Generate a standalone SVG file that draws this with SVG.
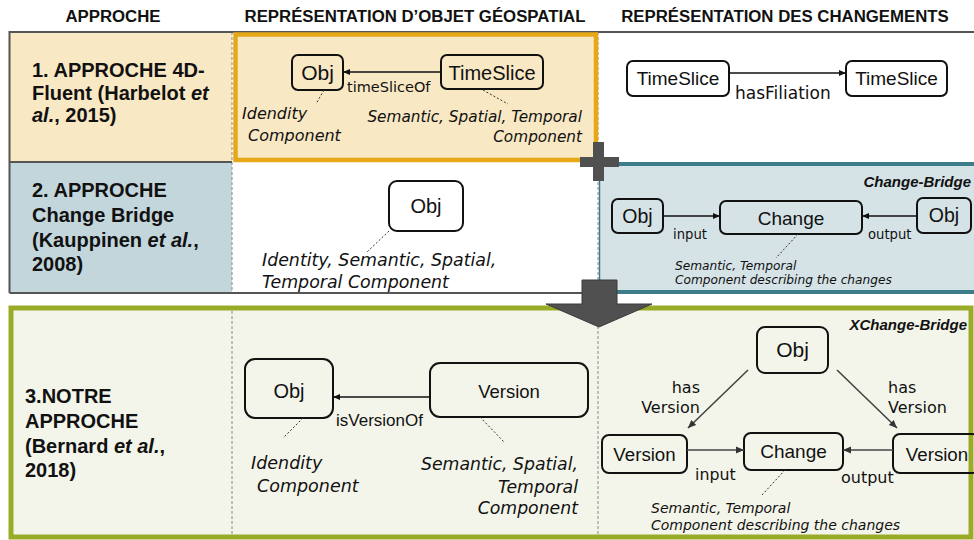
<svg xmlns="http://www.w3.org/2000/svg" width="974" height="540" viewBox="0 0 974 540">
<defs>
<style>
.hdr{font-family:"Liberation Sans",Arial,sans-serif;font-weight:bold;font-size:16.8px;text-anchor:middle;fill:#111}
.rt{font-family:"Liberation Sans",Arial,sans-serif;font-weight:bold;font-size:20px;fill:#111}
.box{fill:none;stroke:#111;stroke-width:2}
.bt{font-family:"Liberation Sans",Arial,sans-serif;text-anchor:middle;fill:#111}
.lb{font-family:"DejaVu Sans",Verdana,sans-serif;fill:#111}
.it{font-family:"DejaVu Sans",Verdana,sans-serif;font-style:italic;fill:#111}
.bi{font-family:"Liberation Sans",Arial,sans-serif;font-style:italic;font-weight:bold;font-size:15px;text-anchor:end;fill:#111}
.conn{stroke:#111;stroke-width:1.3;fill:none}
.conn2{stroke:#444;stroke-width:1.6;fill:none}
.dot{stroke:#333;stroke-width:1;stroke-dasharray:2 2;fill:none}
.div{stroke:#888;stroke-width:1;stroke-dasharray:3 2;fill:none}
</style>
<marker id="ah" markerWidth="8" markerHeight="8" refX="7" refY="4" orient="auto" markerUnits="userSpaceOnUse"><path d="M0,1 L7,4 L0,7 z" fill="#111"/></marker>
<marker id="ah2" markerWidth="9" markerHeight="9" refX="8" refY="4.5" orient="auto" markerUnits="userSpaceOnUse"><path d="M0,1 L8,4.5 L0,8 z" fill="#333"/></marker>
</defs>
<rect width="974" height="540" fill="#fff"/>

<g id="table">
<rect x="9.5" y="32" width="222.5" height="130" fill="#f9e8c4"/>
<rect x="9.5" y="162" width="222.5" height="131" fill="#c3d6dc"/>
<path d="M232 32V293M598 32V293" class="div"/>
<path d="M9.5 293V32H974M9.5 162H232M9.5 293H974" stroke="#555" stroke-width="2" fill="none"/>
<rect x="235.5" y="34.5" width="360.5" height="125.5" fill="#f9e8c4" stroke="#e6a817" stroke-width="4.5"/>
<rect x="599" y="164" width="376" height="128" fill="#d5e3e7"/>
<path d="M599 164H974M599 292H974" stroke="#3d7d8a" stroke-width="4"/>
<path d="M599.5 164V292" stroke="#3d7d8a" stroke-width="1.5"/>
<path d="M593 142h11v15h15v10h-15v14h-11v-14h-13v-10h13z" fill="#505050"/>
<rect x="11" y="308" width="960" height="229" fill="#f4f5ea" stroke="#9aab28" stroke-width="5"/>
<path d="M232 311V535M598 311V535" class="div"/>
<path d="M582 280H617V304H652L599 327L546 304H582Z" fill="#505050" stroke="#3a3a3a" stroke-width="1"/>
</g>

<g id="headers">
<text class="hdr" x="113" y="22">APPROCHE</text>
<text class="hdr" x="415" y="22">REPRÉSENTATION D’OBJET GÉOSPATIAL</text>
<text class="hdr" x="785" y="22">REPRÉSENTATION DES CHANGEMENTS</text>
</g>

<g id="row1-label">
<text class="rt" x="32" y="77">1. APPROCHE 4D-</text>
<text class="rt" x="32" y="100">Fluent (Harbelot <tspan font-style="italic">et</tspan></text>
<text class="rt" x="32" y="122"><tspan font-style="italic">al.</tspan>, 2015)</text>
</g>
<g id="row2-label">
<text class="rt" x="32" y="197">2. APPROCHE</text>
<text class="rt" x="32" y="222">Change Bridge</text>
<text class="rt" x="32" y="247">(Kauppinen <tspan font-style="italic">et al.</tspan>,</text>
<text class="rt" x="32" y="271">2008)</text>
</g>
<g id="row3-label">
<text class="rt" x="25" y="403">3.NOTRE</text>
<text class="rt" x="25" y="428">APPROCHE</text>
<text class="rt" x="25" y="453">(Bernard <tspan font-style="italic">et al.</tspan>,</text>
<text class="rt" x="25" y="477">2018)</text>
</g>

<g id="r1-obj">
<rect class="box" x="292" y="55" width="51" height="35" rx="6"/>
<text class="bt" x="317.5" y="80" font-size="21">Obj</text>
<text class="it" x="242" y="119" font-size="16">Idendity</text>
<text class="it" x="248" y="141" font-size="16">Component</text>
</g>
<g id="r1-timeslice">
<rect class="box" x="441" y="55" width="102" height="34" rx="6"/>
<text class="bt" x="492" y="80" font-size="20">TimeSlice</text>
<text class="it" x="582" y="122" font-size="15.3" text-anchor="end">Semantic, Spatial, Temporal</text>
<text class="it" x="582" y="142" font-size="15.3" text-anchor="end">Component</text>
</g>
<g id="r1-ts-a">
<rect class="box" x="627" y="61" width="102" height="35" rx="6"/>
<text class="bt" x="678" y="85" font-size="19">TimeSlice</text>
</g>
<g id="r1-ts-b">
<rect class="box" x="846" y="61" width="101" height="35" rx="6"/>
<text class="bt" x="896.5" y="85" font-size="19">TimeSlice</text>
</g>

<g id="r2-obj">
<rect class="box" x="389" y="181" width="74" height="50" rx="8"/>
<text class="bt" x="426" y="213" font-size="20">Obj</text>
<text class="it" x="262" y="266" font-size="17.4">Identity, Semantic, Spatial,</text>
<text class="it" x="262" y="288" font-size="17.4">Temporal Component</text>
</g>
<text class="bi" x="971" y="187">Change-Bridge</text>
<g id="r2-obj-in">
<rect class="box" x="612" y="199" width="51" height="34" rx="6"/>
<text class="bt" x="637.5" y="223" font-size="19.5">Obj</text>
</g>
<g id="r2-change">
<rect class="box" x="720" y="201" width="142" height="33" rx="6"/>
<text class="bt" x="791" y="225" font-size="19">Change</text>
<text class="it" x="675" y="270" font-size="12.2">Semantic, Temporal</text>
<text class="it" x="675" y="284" font-size="12.2">Component describing the changes</text>
</g>
<g id="r2-obj-out">
<rect class="box" x="917" y="198" width="54" height="35" rx="6"/>
<text class="bt" x="944" y="222" font-size="19.5">Obj</text>
</g>

<g id="r3-obj">
<rect class="box" x="245" y="359" width="88" height="59" rx="10"/>
<text class="bt" x="289" y="398" font-size="20">Obj</text>
<text class="it" x="251" y="469" font-size="17.5">Idendity</text>
<text class="it" x="257" y="492" font-size="17.5">Component</text>
</g>
<g id="r3-version">
<rect class="box" x="430" y="363" width="158" height="54" rx="10"/>
<text class="bt" x="509" y="398" font-size="18.5">Version</text>
<text class="it" x="578" y="470" font-size="17.3" text-anchor="end">Semantic, Spatial,</text>
<text class="it" x="578" y="493" font-size="17.3" text-anchor="end">Temporal</text>
<text class="it" x="578" y="514" font-size="17.3" text-anchor="end">Component</text>
</g>
<text class="bi" x="967" y="330">XChange-Bridge</text>
<g id="r3-xobj">
<rect class="box" x="757" y="327" width="71" height="46" rx="8"/>
<text class="bt" x="792.5" y="357" font-size="21">Obj</text>
</g>
<g id="r3-version-in">
<rect class="box" x="602" y="435" width="85" height="38" rx="7"/>
<text class="bt" x="644.5" y="461" font-size="18.7">Version</text>
</g>
<g id="r3-change">
<rect class="box" x="744" y="433" width="99" height="37" rx="7"/>
<text class="bt" x="793.5" y="458" font-size="19">Change</text>
<text class="it" x="651" y="513" font-size="14">Semantic, Temporal</text>
<text class="it" x="651" y="530" font-size="14">Component describing the changes</text>
</g>
<g id="r3-version-out">
<rect class="box" x="893" y="434" width="86" height="39" rx="7"/>
<text class="bt" x="937" y="461" font-size="18.7">Version</text>
</g>

<g id="connectors">
<line class="conn" x1="441" y1="72" x2="343" y2="72" marker-end="url(#ah)"/>
<text class="lb" x="347" y="92" font-size="14.5">timeSliceOf</text>
<line class="dot" x1="324" y1="90" x2="316" y2="104"/>
<line class="dot" x1="483" y1="90" x2="508" y2="104"/>
<line class="conn" x1="729" y1="73" x2="846" y2="73" marker-end="url(#ah)"/>
<text class="lb" x="735" y="99" font-size="17">hasFiliation</text>
<line class="dot" x1="389" y1="231" x2="367" y2="252"/>
<line class="conn" x1="663" y1="216" x2="720" y2="216" marker-end="url(#ah)"/>
<line class="conn" x1="917" y1="216" x2="862" y2="216" marker-end="url(#ah)"/>
<text class="lb" x="673" y="239" font-size="13.2">input</text>
<text class="lb" x="868" y="239" font-size="13.2">output</text>
<line class="dot" x1="798" y1="234" x2="776" y2="258"/>
<line class="conn" x1="430" y1="397" x2="333" y2="397" marker-end="url(#ah)"/>
<text class="bt" x="336" y="426" font-size="17" text-anchor="start" style="text-anchor:start">isVersionOf</text>
<line class="dot" x1="303" y1="418" x2="283" y2="438"/>
<line class="dot" x1="480" y1="417" x2="505" y2="443"/>
<line class="conn2" x1="748" y1="370" x2="688" y2="428" marker-end="url(#ah2)"/>
<line class="conn2" x1="837" y1="370" x2="897" y2="428" marker-end="url(#ah2)"/>
<line class="conn2" x1="687" y1="450" x2="744" y2="450" marker-end="url(#ah2)"/>
<line class="conn2" x1="893" y1="450" x2="843" y2="450" marker-end="url(#ah2)"/>
<text class="lb" x="700" y="393" font-size="16" text-anchor="end">has</text>
<text class="lb" x="700" y="413" font-size="16" text-anchor="end">Version</text>
<text class="lb" x="888" y="393" font-size="16">has</text>
<text class="lb" x="888" y="413" font-size="16">Version</text>
<text class="lb" x="695" y="480" font-size="15.8">input</text>
<text class="lb" x="841" y="483" font-size="16">output</text>
<line class="dot" x1="785" y1="470" x2="762" y2="495"/>
</g>
</svg>
